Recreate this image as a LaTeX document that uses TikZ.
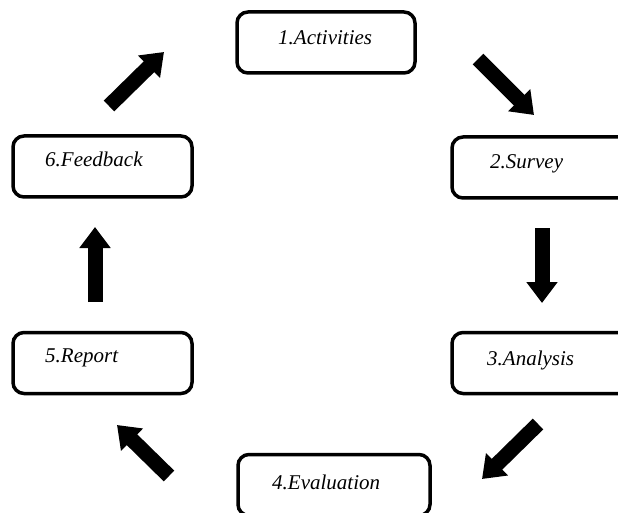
\documentclass[tikz,border=0pt]{standalone}
\usepackage{fontspec}
\setmainfont{Liberation Serif}
\usetikzlibrary{arrows.meta}
\tikzset{
  stagebox/.style={draw=black, line width=3.5pt, rounded corners=11pt,
    rectangle, inner sep=0pt},
  stagetext/.style={anchor=base west, inner sep=0pt,
    font=\fontsize{21}{25}\selectfont\itshape},
  flow/.style={line width=15pt,
    -{Triangle[width=30pt,length=21pt]}}
}
\begin{document}
\begin{tikzpicture}[x=1pt,y=-1pt]
\useasboundingbox (0,0) rectangle (618,513);
\clip (0,0) rectangle (618,513);
% stage boxes (centre, size)
\node[stagebox, minimum width=178pt, minimum height=61pt] (act) at (326,42.5) {};
\node[stagebox, minimum width=178pt, minimum height=61pt] (sur) at (541,167.5) {};
\node[stagebox, minimum width=178pt, minimum height=61pt] (ana) at (541,363) {};
\node[stagebox, minimum width=192pt, minimum height=61pt] (eva) at (334,485) {};
\node[stagebox, minimum width=179pt, minimum height=61pt] (rep) at (102.5,363) {};
\node[stagebox, minimum width=179pt, minimum height=61pt] (fee) at (102.5,166.5) {};
% stage labels
\node[stagetext] (tact) at (278,45) {1.Activities};
\node[stagetext] (tsur) at (490,169) {2.Survey};
\node[stagetext] (tana) at (487,365) {3.Analysis};
\node[stagetext] (teva) at (272,489) {4.Evaluation};
\node[stagetext] (trep) at (45,362) {5.Report};
\node[stagetext] (tfee) at (45,167) {6.Feedback};
% arrow end points between the stages
\coordinate (a1s) at (478,59);  \coordinate (a1e) at (534,115);
\coordinate (a2s) at (542,228); \coordinate (a2e) at (542,303);
\coordinate (a3s) at (538,424); \coordinate (a3e) at (482,479);
\coordinate (a4s) at (169,476); \coordinate (a4e) at (117,425);
\coordinate (a5s) at (95,302);  \coordinate (a5e) at (95,227);
\coordinate (a6s) at (109,106); \coordinate (a6e) at (164,52);
\draw[flow] (a1s) -- (a1e);
\draw[flow] (a2s) -- (a2e);
\draw[flow] (a3s) -- (a3e);
\draw[flow] (a4s) -- (a4e);
\draw[flow] (a5s) -- (a5e);
\draw[flow] (a6s) -- (a6e);
\end{tikzpicture}
\end{document}
